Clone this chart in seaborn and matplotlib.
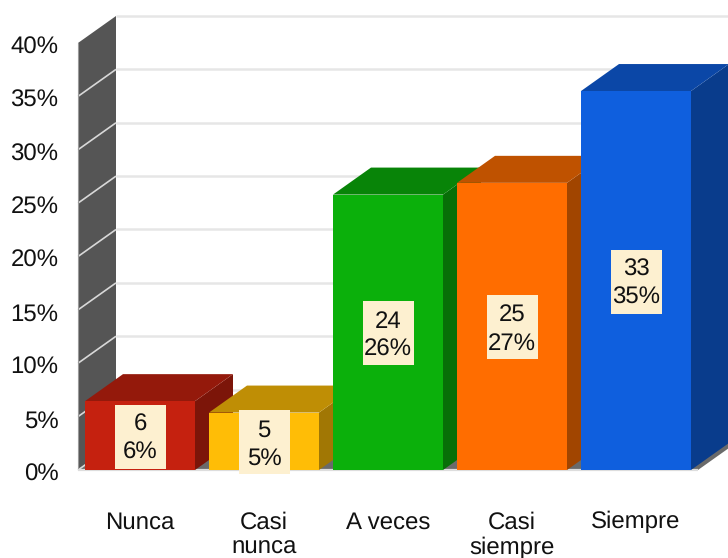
import matplotlib
matplotlib.use("Agg")
import matplotlib.pyplot as plt
from matplotlib.patches import Polygon, Rectangle
from matplotlib.colors import to_rgb
from matplotlib.transforms import ScaledTranslation
import pandas as pd
import seaborn as sns

categories = ["Nunca", "Casi\nnunca", "A veces", "Casi\nsiempre", "Siempre"]
counts = [6, 5, 24, 25, 33]
shares = [6.45, 5.38, 25.8, 26.9, 35.5]
share_labels = ["6%", "5%", "26%", "27%", "35%"]
colors = ["#C5210F", "#FFBD06", "#0BB00B", "#FF6D00", "#0F5FDE"]
y_ticks = [0, 5, 10, 15, 20, 25, 30, 35, 40]

W, H = 728, 558
LEFT, RIGHT, BOTTOM, TOP = 78, 698, 470, 43
PITCH = (RIGHT - LEFT) / 5
PER_UNIT = (BOTTOM - TOP) / 40
DX = 38 / PITCH
DY = 27 / PER_UNIT
BAR_W = 110 / PITCH
FS = 17
LS = 1.3


def shade(c, f):
    return tuple(v * f for v in to_rgb(c))


sns.set_theme(style="white")
plt.rcParams["font.family"] = ["Liberation Sans", "DejaVu Sans"]
plt.rcParams["text.hinting"] = "no_hinting"
plt.rcParams["text.hinting_factor"] = 1

fig = plt.figure(figsize=(W / 100, H / 100), dpi=100)
ax = fig.add_axes([LEFT / W, 1 - BOTTOM / H, (RIGHT - LEFT) / W, (BOTTOM - TOP) / H])
ax.patch.set_alpha(0)

df = pd.DataFrame({"cat": categories, "share": shares})
sns.barplot(data=df, x="cat", y="share", hue="cat", palette=colors, legend=False,
            width=BAR_W, saturation=1, ax=ax, zorder=10, linewidth=0)

ax.set_xlim(-0.5, 4.5)
ax.set_ylim(0, 40)
ax.set_xlabel("")
ax.set_ylabel("")
sns.despine(ax=ax, left=True, bottom=True, top=True, right=True)
ax.set_yticks(y_ticks)
ax.set_yticklabels([f"{t}%" for t in y_ticks])
ax.tick_params(axis="y", length=0, pad=14, labelsize=FS, labelcolor="#111111")
ax.tick_params(axis="x", length=0, pad=29.5, labelsize=FS, labelcolor="#111111")
for lab in ax.get_xticklabels():
    lab.set_linespacing(1.16)
shift = ScaledTranslation(0, -2 / 100, fig.dpi_scale_trans)
for lab in ax.get_yticklabels():
    lab.set_transform(lab.get_transform() + shift)

x0 = -0.5
x1 = 4.5
GRID = "#E6E6E6"
ax.add_patch(Polygon([(x0, 0), (x0 + DX, DY), (x0 + DX, 40 + DY), (x0, 40)],
                     fc="#555555", ec="none", clip_on=False, zorder=1))
ax.add_patch(Polygon([(x0, 0), (x1, 0), (x1 + DX, DY), (x0 + DX, DY)],
                     fc="#6a6a6a", ec="none", clip_on=False, zorder=1))
for t in y_ticks:
    ax.plot([x0 + DX, x1 + 2 * DX], [t + DY, t + DY], color=GRID, lw=1.8,
            clip_on=False, zorder=0.5, solid_capstyle="butt")
    if t < 40:
        ax.plot([x0, x0 + DX], [t, t + DY], color="#D8D8D8", lw=1.2,
                clip_on=False, zorder=2, solid_capstyle="butt")
ax.plot([x0, x0], [0, 40], color="#9A9A9A", lw=0.8, clip_on=False, zorder=2)
ax.plot([x0, x1], [0, 0], color="#DDDDDD", lw=1.6, clip_on=False, zorder=3,
        solid_capstyle="butt")

for i, (v, c) in enumerate(zip(shares, colors)):
    l, r = i - BAR_W / 2, i + BAR_W / 2
    z = 4 + i * 0.5
    ax.add_patch(Polygon([(l, v), (r, v), (r + DX, v + DY), (l + DX, v + DY)],
                         fc=shade(c, 0.75), ec="none", clip_on=False, zorder=z + 0.1))
    ax.add_patch(Polygon([(r, 0), (r + DX, DY), (r + DX, v + DY), (r, v)],
                         fc=shade(c, 0.63), ec="none", clip_on=False, zorder=z))
    box_w, box_h = 51 / PITCH, 64 / PER_UNIT
    yc = v / 2 - 1 / PER_UNIT
    ax.add_patch(Rectangle((i - box_w / 2, yc - box_h / 2), box_w, box_h,
                           fc="#FDF0D0", ec="none", clip_on=False, zorder=20))
    ax.text(i, yc - 2 / PER_UNIT, f"{counts[i]}\n{share_labels[i]}", ha="center", va="center",
            fontsize=FS, color="#111111", linespacing=LS, zorder=21)

fig.savefig("out.png", dpi=100)
